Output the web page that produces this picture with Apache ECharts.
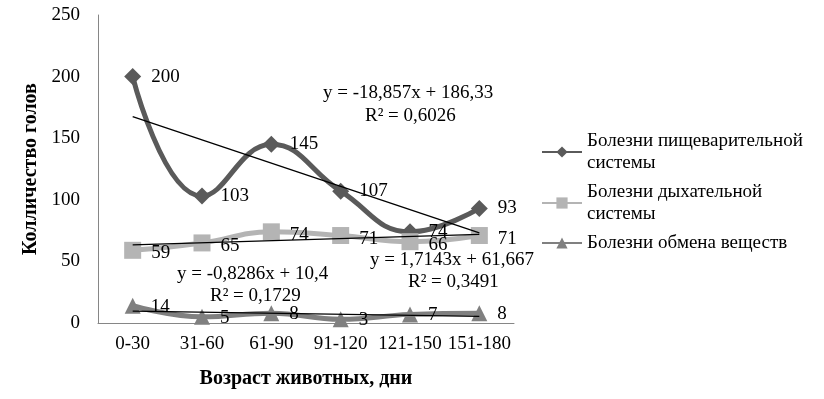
<!DOCTYPE html>
<html><head><meta charset="utf-8">
<script src="https://cdn.jsdelivr.net/npm/echarts@6/dist/echarts.min.js"></script>
<style>html,body{margin:0;padding:0;background:#fff}#c{width:824px;height:399px}</style>
</head><body><div id="c"></div>
<script>
var categories = ['0-30','31-60','61-90','91-120','121-150','151-180'];
var digestive = [200,103,145,107,74,93];
var respiratory = [59,65,74,71,66,71];
var metabolism = [14,5,8,3,7,8];
var yTicks = [0,50,100,150,200,250];
// linear trendlines (endpoints read from the drawn equations)
var trendDigestive = [[0,167.5],[5,73.2]];
var trendRespiratory = [[0,63.4],[5,71.9]];
var trendMetabolism = [[0,9.6],[5,5.4]];
var names = ['Болезни пищеварительной системы','Болезни дыхательной системы','Болезни обмена веществ'];
var legendText = {'Болезни пищеварительной системы':'Болезни пищеварительной\nсистемы','Болезни дыхательной системы':'Болезни дыхательной\nсистемы','Болезни обмена веществ':'Болезни обмена веществ'};

var F = 'Liberation Serif, Times New Roman, serif';
var FS = 19;
var chart = echarts.init(document.getElementById('c'), null, {renderer:'canvas'});
function mainSeries(name, data, color, symbol, size, dy){
  return {name:name,type:'line',data:data,smooth:0.45,symbol:symbol,symbolSize:size,
    lineStyle:{color:color,width:5},itemStyle:{color:color},
    label:{show:true,position:'right',distance:10,offset:[0,dy],color:'#000',fontFamily:F,fontSize:FS},z:2};
}
function trend(data){
  return {type:'line',data:data,symbol:'none',silent:true,lineStyle:{color:'#000',width:1.3},z:3,animation:false};
}
chart.setOption({
  animation:false,
  textStyle:{fontFamily:F},
  grid:{left:98,right:310,top:15,bottom:76,containLabel:false},
  legend:{orient:'vertical',left:536,top:125,itemWidth:40,itemHeight:14,itemGap:7,
    data:names,formatter:function(n){return legendText[n];},
    textStyle:{fontFamily:F,fontSize:FS,color:'#000',lineHeight:22}},
  xAxis:{type:'category',data:categories,boundaryGap:true,
    axisLine:{lineStyle:{color:'#868686',width:1}},axisTick:{show:false},
    axisLabel:{color:'#000',fontFamily:F,fontSize:FS,margin:12,interval:0},
    name:'Возраст животных, дни',nameLocation:'middle',nameGap:46,
    nameTextStyle:{color:'#000',fontFamily:F,fontSize:20,fontWeight:'bold'}},
  yAxis:{type:'value',min:0,max:250,interval:50,
    axisLine:{show:true,lineStyle:{color:'#868686',width:1}},axisTick:{show:false},splitLine:{show:false},
    axisLabel:{color:'#000',fontFamily:F,fontSize:FS,margin:18},
    name:'Колличество голов',nameLocation:'middle',nameGap:52,nameRotate:90,
    nameTextStyle:{color:'#000',fontFamily:F,fontSize:20,fontWeight:'bold'}},
  series:[
    mainSeries(names[0],digestive,'#5a5a5a','diamond',17,0),
    mainSeries(names[1],respiratory,'#b4b4b4','rect',17,3),
    mainSeries(names[2],metabolism,'#808080','triangle',16,1),
    trend(trendDigestive),trend(trendRespiratory),trend(trendMetabolism)
  ],
  graphic:[
    {type:'text',left:323,top:84,style:{text:'y = -18,857x + 186,33',font:FS+'px '+F,fill:'#000'}},
    {type:'text',left:365,top:107,style:{text:'R² = 0,6026',font:FS+'px '+F,fill:'#000'}},
    {type:'text',left:370,top:251,style:{text:'y = 1,7143x + 61,667',font:FS+'px '+F,fill:'#000'}},
    {type:'text',left:408,top:273,style:{text:'R² = 0,3491',font:FS+'px '+F,fill:'#000'}},
    {type:'text',left:177,top:265,style:{text:'y = -0,8286x + 10,4',font:FS+'px '+F,fill:'#000'}},
    {type:'text',left:210,top:287,style:{text:'R² = 0,1729',font:FS+'px '+F,fill:'#000'}}
  ]
});
</script></body></html>
